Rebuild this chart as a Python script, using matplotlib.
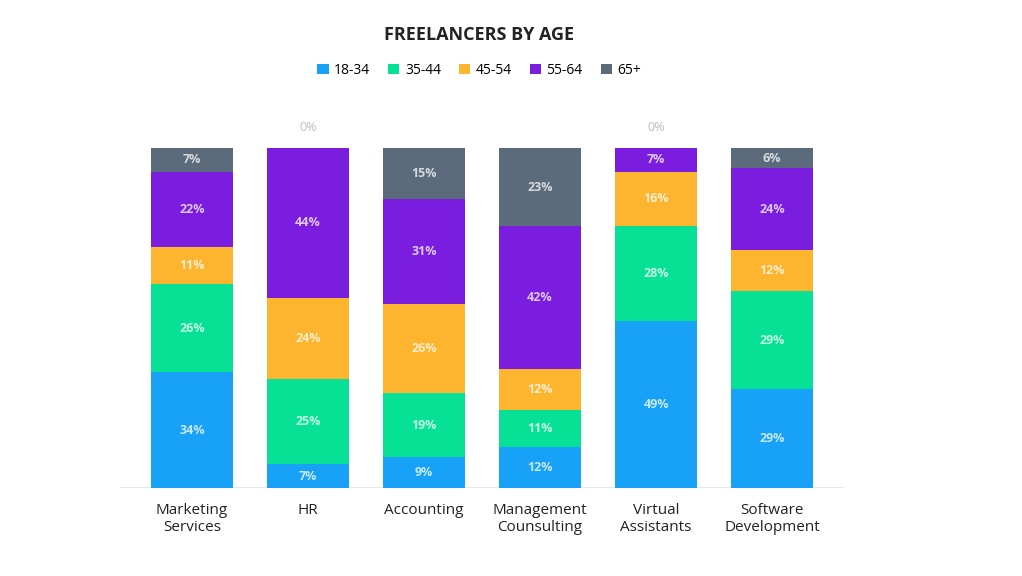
import matplotlib.pyplot as plt
import numpy as np

# ---------------------------------------------------------------------------
# Data (percent share of freelancers per age group)
# ---------------------------------------------------------------------------
CATEGORIES = ['Marketing\nServices', 'HR', 'Accounting', 'Management\nCounsulting',
              'Virtual\nAssistants', 'Software\nDevelopment']
AGE_GROUPS = ['18-34', '35-44', '45-54', '55-64', '65+']

AGE_18_34 = [34, 7, 9, 12, 49, 29]
AGE_35_44 = [26, 25, 19, 11, 28, 29]
AGE_45_54 = [11, 24, 26, 12, 16, 12]
AGE_55_64 = [22, 44, 31, 42, 7, 24]
AGE_65_UP = [7, 0, 15, 23, 0, 6]

COLORS = ['#17a2f7', '#07e195', '#fdb530', '#7a1ddf', '#5b6b7b']

plt.rcParams['font.family'] = ['Open Sans', 'DejaVu Sans']

fig = plt.figure(figsize=(10.22, 5.76), dpi=100)
ax = fig.add_axes([0.1174, 0.1528, 0.7084, 0.5903])

series = [AGE_18_34, AGE_35_44, AGE_45_54, AGE_55_64, AGE_65_UP]
x = np.arange(len(CATEGORIES))
bottom = np.zeros(len(CATEGORIES))
for name, vals, color in zip(AGE_GROUPS, series, COLORS):
    vals = np.array(vals, dtype=float)
    ax.bar(x, vals, bottom=bottom, width=0.71, color=color, label=name,
           edgecolor='none', zorder=2)
    for xi, b, v in zip(x, bottom, vals):
        if v > 0:
            ax.text(xi, b + v / 2, f'{int(v)}%', ha='center', va='center',
                    color='white', fontsize=9, fontweight='bold', alpha=0.75)
        else:
            ax.text(xi, b + 6, f'{int(v)}%', ha='center', va='center',
                    color='#bbbbbb', fontsize=9, clip_on=False)
    bottom += vals

ax.set_xlim(-0.62, len(CATEGORIES) - 0.38)
ax.set_ylim(0, 100)
ax.axhline(0, color='#e4e4e4', linewidth=2, zorder=1)

ax.set_xticks(x)
ax.set_xticklabels(CATEGORIES, fontsize=11, color='#222222', linespacing=1.15)
ax.tick_params(axis='x', length=0, pad=11)
ax.set_yticks([])
for s in ax.spines.values():
    s.set_visible(False)

fig.text(0.469, 0.94, 'FREELANCERS BY AGE', ha='center', va='center',
         fontsize=13, fontweight='bold', color='#222222')

handles, labels = ax.get_legend_handles_labels()
fig.legend(handles, labels, loc='center', bbox_to_anchor=(0.469, 0.878),
           ncol=5, frameon=False, fontsize=10, handlelength=0.8,
           handleheight=0.8, handletextpad=0.4, columnspacing=1.3)

plt.savefig('out.png', dpi=100)
